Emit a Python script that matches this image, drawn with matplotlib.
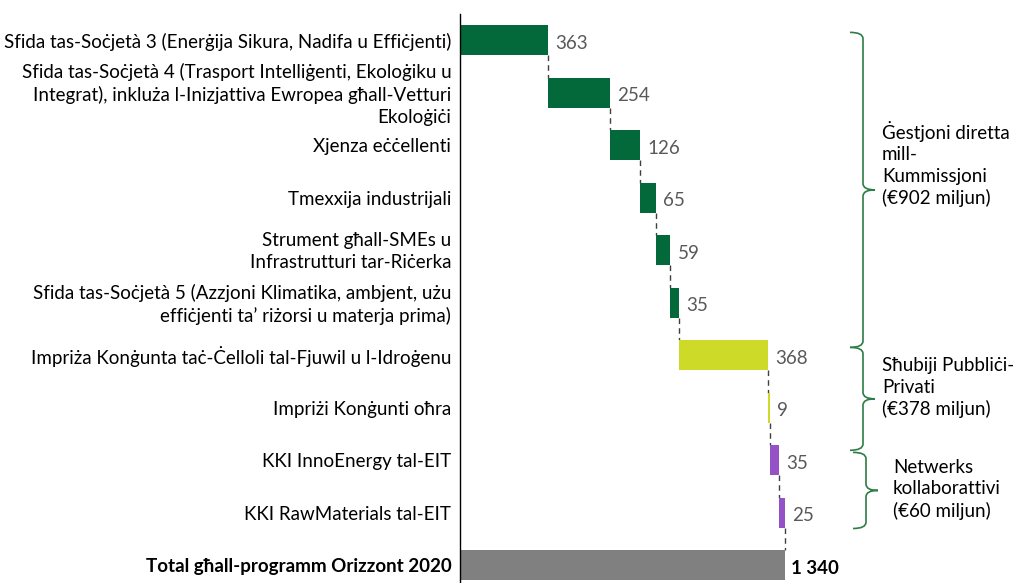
import matplotlib
matplotlib.use("Agg")
import matplotlib.pyplot as plt
from matplotlib.path import Path
from matplotlib.patches import PathPatch
import matplotlib.transforms as mtransforms

plt.rcParams['font.family'] = ['Lato', 'DejaVu Sans']

categories = [
    "Sfida tas-Soċjetà 3 (Enerġija Sikura, Nadifa u Effiċjenti)",
    "Sfida tas-Soċjetà 4 (Trasport Intelliġenti, Ekoloġiku u\nIntegrat), inkluża l-Inizjattiva Ewropea għall-Vetturi\nEkoloġiċi",
    "Xjenza eċċellenti",
    "Tmexxija industrijali",
    "Strument għall-SMEs u\nInfrastrutturi tar-Riċerka",
    "Sfida tas-Soċjetà 5 (Azzjoni Klimatika, ambjent, użu\neffiċjenti ta’ riżorsi u materja prima)",
    "Impriża Konġunta taċ-Ċelloli tal-Fjuwil u l-Idroġenu",
    "Impriżi Konġunti oħra",
    "KKI InnoEnergy tal-EIT",
    "KKI RawMaterials tal-EIT",
]
values = [363, 254, 126, 65, 59, 35, 368, 9, 35, 25]
groups = [0, 0, 0, 0, 0, 0, 1, 1, 2, 2]
total_label = "Total għall-programm Orizzont 2020"
total_value = 1340
total_text = "1 340"

group_colors = ["#03693A", "#CDDB28", "#9452C6"]
total_color = "#808080"
group_texts = [
    "Ġestjoni diretta\nmill-\nKummissjoni\n(€902 miljun)",
    "Sħubiji Pubbliċi-\nPrivati\n(€378 miljun)",
    "Netwerks\nkollaborattivi\n(€60 miljun)",
]

FS = 13.5
W, H = 1016, 583
fig = plt.figure(figsize=(W / 100, H / 100), dpi=100)
n = len(values) + 1
row_px = 52.5
top_px = 14
bottom_px = top_px + row_px * n
left_px = 460
ax = fig.add_axes([left_px / W, 1 - bottom_px / H, (W - left_px) / W, (bottom_px - top_px) / H])
px_per_unit = 88 / 363
ax.set_xlim(0, (W - left_px) / px_per_unit)
ax.set_ylim(n - 0.5, -0.5)

bh = 0.58
starts = []
cum = 0
for i, v in enumerate(values):
    starts.append(cum)
    ax.barh(i, v, left=cum, height=bh, color=group_colors[groups[i]], zorder=2)
    ax.text(cum + v + 30, i + 0.06, str(v), va='center', ha='left', fontsize=FS, color='#595959')
    cum += v
ti = len(values)
ax.barh(ti, total_value, left=0, height=bh, color=total_color, zorder=2)
ax.text(total_value + 25, ti + 0.06, total_text, va='center', ha='left', fontsize=FS,
        fontweight='bold', color='black')

ends = [s + v for s, v in zip(starts, values)]
for i in range(len(values)):
    ax.plot([ends[i], ends[i]], [i + bh / 2, i + 1 - bh / 2], color='#404040', lw=1,
            linestyle=(0, (4, 3)), zorder=1)

labels = categories + [total_label]
for i, lab in enumerate(labels):
    ax.text(-36, i + 0.03, lab, ha='right', va='center', fontsize=FS, color='black',
            linespacing=1.35, fontweight='bold' if i == ti else 'normal')

for s in ['top', 'right', 'bottom']:
    ax.spines[s].set_visible(False)
ax.spines['left'].set_color('black')
ax.spines['left'].set_linewidth(1)
ax.set_xticks([])
ax.set_yticks([])

trans = mtransforms.blended_transform_factory(
    mtransforms.Affine2D().scale(1.0 / W) + fig.transFigure, ax.transData)

def brace(xv, y0, y1, color='#2E7D46'):
    ym = (y0 + y1) / 2
    r = 0.12
    verts = [(xv - 13, y0), (xv, y0), (xv, y0 + r),
             (xv, ym - r), (xv, ym), (xv + 12, ym),
             (xv, ym), (xv, ym + r),
             (xv, y1 - r), (xv, y1), (xv - 13, y1)]
    codes = [Path.MOVETO, Path.CURVE3, Path.CURVE3,
             Path.LINETO, Path.CURVE3, Path.CURVE3,
             Path.CURVE3, Path.CURVE3,
             Path.LINETO, Path.CURVE3, Path.CURVE3]
    p = PathPatch(Path(verts, codes), transform=trans, fill=False, edgecolor=color, lw=1.2,
                  clip_on=False)
    ax.add_patch(p)

brace_spans = [(-0.15, 5.85), (5.85, 7.81), (7.85, 9.3)]
brace_x = [863, 863, 866]
text_x = [882, 882, 893]
text_y = [2.36, 6.62, 8.55]
for k in range(3):
    brace(brace_x[k], *brace_spans[k])
    ax.text(text_x[k], text_y[k], group_texts[k], transform=trans, ha='left', va='center',
            fontsize=FS, linespacing=1.3, color='black', clip_on=False)

fig.savefig("out.png", dpi=100)
